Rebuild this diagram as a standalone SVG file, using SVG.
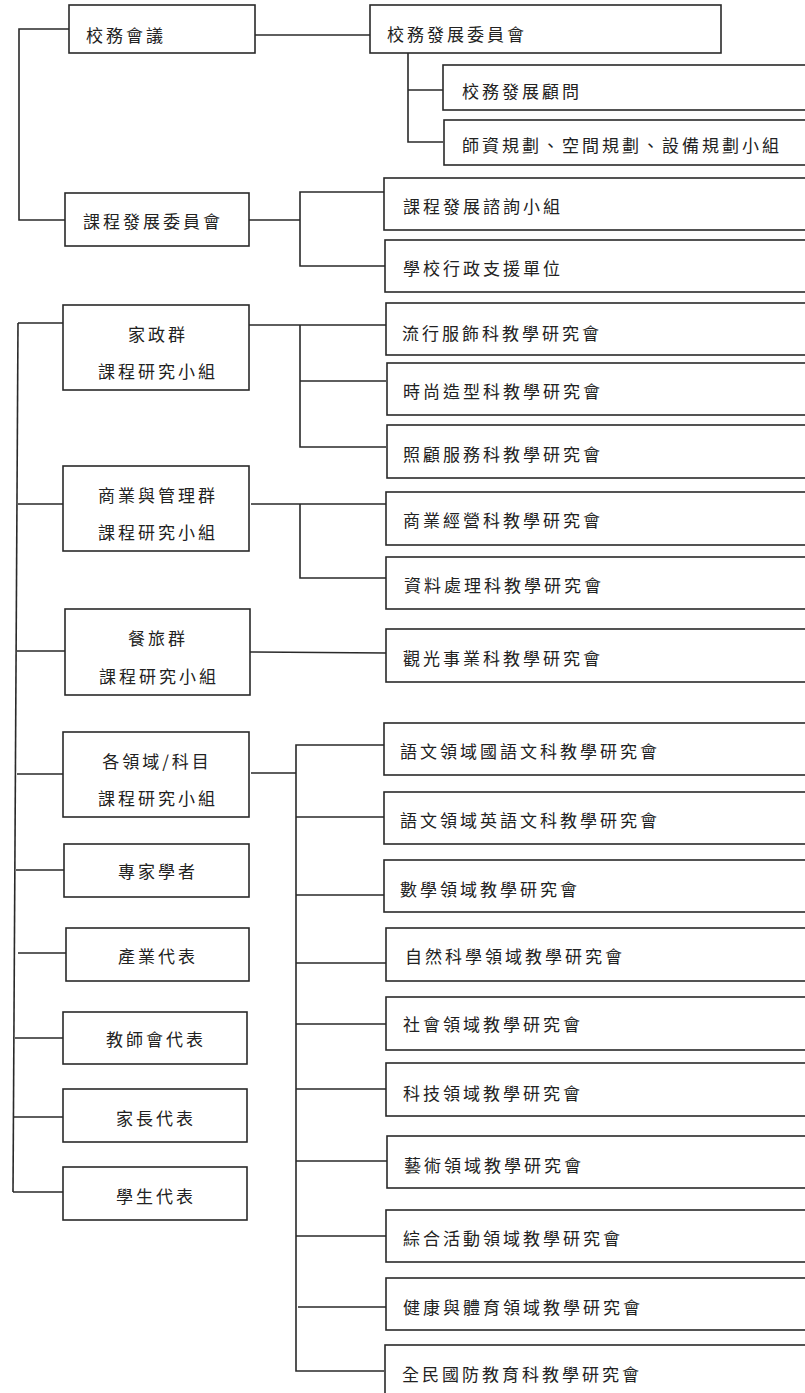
<svg xmlns="http://www.w3.org/2000/svg" width="805" height="1393" viewBox="0 0 805 1393">
<style>
rect{fill:#fff;stroke:#2a2a2a;stroke-width:1.6}
text{font-family:"Noto Sans CJK TC","Noto Sans CJK JP",sans-serif;font-size:17px;letter-spacing:3px;fill:#222;dominant-baseline:central}
.c{text-anchor:middle}
#connectors path,#connectors line{stroke:#2a2a2a;stroke-width:1.6;fill:none}
</style>
<rect x="0" y="0" width="805" height="1393" style="stroke:none"/>
<g id="connectors">
<path d="M69 29H19V220H65"/>
<path d="M255 35H370"/>
<path d="M408 53V142H443M408 90H443"/>
<path d="M249 220H300M384 192H300V266H385"/>
<line x1="18" y1="323" x2="13" y2="1192"/>
<path d="M18 323H63M18 504H63M17 651H65M17 774H63M16 870H64M18 953H66M15 1038H63M14 1117H63M13 1192H63"/>
<path d="M249 325H386M300 325V447H386M300 381H386"/>
<path d="M251 504H386M300 504V578H386"/>
<path d="M250 652L386 653"/>
<path d="M251 773H296M384 745H296V1371H384"/>
<path d="M296 817H384M296 895H384M296 963H386M296 1024H386M296 1089H386M296 1161H387M296 1236H386M298 1307H386"/>
</g>
<g id="n-xiaowu"><rect x="69" y="5" width="186" height="48"/><text x="86" y="34">校務會議</text></g>
<g id="n-xiaowufazhan"><rect x="370" y="5" width="351" height="48"/><text x="387" y="33">校務發展委員會</text></g>
<g id="n-guwen"><rect x="443" y="65" width="370" height="45"/><text x="462" y="90">校務發展顧問</text></g>
<g id="n-shizi"><rect x="444" y="120" width="370" height="45"/><text x="462" y="144">師資規劃、空間規劃、設備規劃小組</text></g>
<g id="n-kecheng"><rect x="65" y="193" width="184" height="53"/><text x="83" y="220">課程發展委員會</text></g>
<g id="n-zixun"><rect x="384" y="178" width="430" height="52"/><text x="403" y="205">課程發展諮詢小組</text></g>
<g id="n-xingzheng"><rect x="385" y="240" width="430" height="52"/><text x="403" y="267">學校行政支援單位</text></g>
<g id="n-jiazheng"><rect x="63" y="305" width="186" height="85"/><text class="c" x="158" y="333">家政群</text><text class="c" x="158" y="370">課程研究小組</text></g>
<g id="n-shangye"><rect x="63" y="466" width="186" height="85"/><text class="c" x="158" y="494">商業與管理群</text><text class="c" x="158" y="531">課程研究小組</text></g>
<g id="n-canlv"><rect x="65" y="609" width="185" height="86"/><text class="c" x="158" y="637">餐旅群</text><text class="c" x="159" y="675">課程研究小組</text></g>
<g id="n-lingyu"><rect x="63" y="732" width="186" height="85"/><text class="c" x="157" y="760">各領域/科目</text><text class="c" x="158" y="797">課程研究小組</text></g>
<g id="n-zhuanjia"><rect x="64" y="844" width="185" height="53"/><text class="c" x="158" y="870">專家學者</text></g>
<g id="n-chanye"><rect x="66" y="928" width="183" height="53"/><text class="c" x="158" y="955">產業代表</text></g>
<g id="n-jiaoshi"><rect x="63" y="1012" width="184" height="52"/><text class="c" x="156" y="1038">教師會代表</text></g>
<g id="n-jiazhang"><rect x="63" y="1089" width="184" height="53"/><text class="c" x="156" y="1117">家長代表</text></g>
<g id="n-xuesheng"><rect x="63" y="1167" width="184" height="53"/><text class="c" x="156" y="1195">學生代表</text></g>
<g id="n-liuxing"><rect x="386" y="303" width="430" height="52"/><text x="402" y="332">流行服飾科教學研究會</text></g>
<g id="n-shishang"><rect x="387" y="363" width="430" height="52"/><text x="403" y="390">時尚造型科教學研究會</text></g>
<g id="n-zhaogu"><rect x="387" y="425" width="430" height="53"/><text x="403" y="453">照顧服務科教學研究會</text></g>
<g id="n-jingying"><rect x="386" y="492" width="430" height="53"/><text x="403" y="519">商業經營科教學研究會</text></g>
<g id="n-ziliao"><rect x="386" y="557" width="430" height="52"/><text x="404" y="584">資料處理科教學研究會</text></g>
<g id="n-guanguang"><rect x="386" y="629" width="430" height="53"/><text x="403" y="657">觀光事業科教學研究會</text></g>
<g id="n-guoyu"><rect x="384" y="723" width="430" height="52"/><text x="400" y="750">語文領域國語文科教學研究會</text></g>
<g id="n-yingyu"><rect x="384" y="792" width="430" height="52"/><text x="400" y="819">語文領域英語文科教學研究會</text></g>
<g id="n-shuxue"><rect x="384" y="860" width="430" height="52"/><text x="400" y="888">數學領域教學研究會</text></g>
<g id="n-ziran"><rect x="386" y="928" width="430" height="53"/><text x="405" y="955">自然科學領域教學研究會</text></g>
<g id="n-shehui"><rect x="386" y="997" width="430" height="53"/><text x="403" y="1023">社會領域教學研究會</text></g>
<g id="n-keji"><rect x="386" y="1063" width="430" height="53"/><text x="403" y="1092">科技領域教學研究會</text></g>
<g id="n-yishu"><rect x="387" y="1136" width="430" height="52"/><text x="404" y="1164">藝術領域教學研究會</text></g>
<g id="n-zonghe"><rect x="386" y="1210" width="430" height="52"/><text x="403" y="1237">綜合活動領域教學研究會</text></g>
<g id="n-jiankang"><rect x="386" y="1278" width="430" height="52"/><text x="403" y="1306">健康與體育領域教學研究會</text></g>
<g id="n-quanmin"><rect x="385" y="1345" width="430" height="60"/><text x="402" y="1373">全民國防教育科教學研究會</text></g>
</svg>
